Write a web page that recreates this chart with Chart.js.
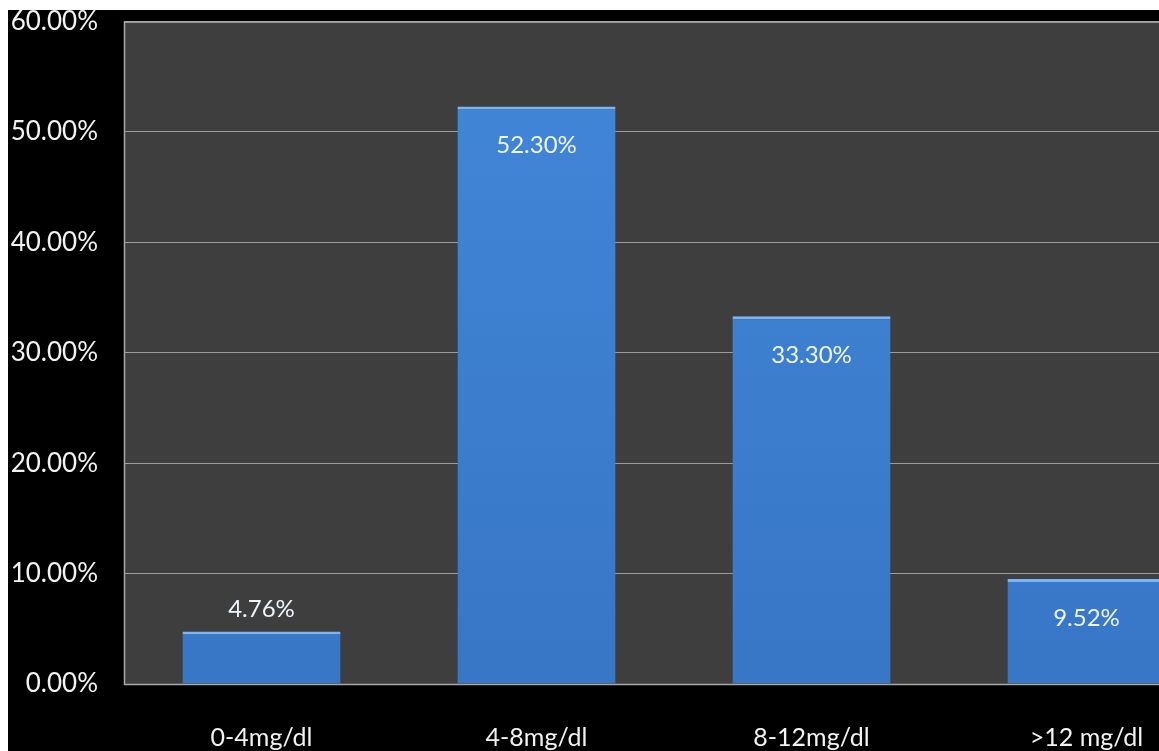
<!DOCTYPE html>
<html>
<head>
<meta charset="utf-8">
<script src="https://cdn.jsdelivr.net/npm/chart.js@4.4.1/dist/chart.umd.min.js"></script>
<style>
  html, body { margin: 0; padding: 0; background: #ffffff; overflow: hidden; width: 1159px; height: 751px; }
  #frame { position: absolute; left: 8px; top: 10px; width: 1151px; height: 741px; background: #000000; overflow: hidden; }
  #wrap { position: absolute; left: 0; top: -30px; width: 1216px; height: 771px; }
</style>
</head>
<body>
<div id="frame"><div id="wrap"><canvas id="c"></canvas></div></div>
<script>
const categories = ['0-4mg/dl', '4-8mg/dl', '8-12mg/dl', '>12 mg/dl'];
const values = [4.76, 52.30, 33.30, 9.52];
const yTicks = [0, 10, 20, 30, 40, 50, 60];

const plotBg = {
  id: 'plotBg',
  beforeDraw(chart) {
    const { ctx, chartArea: a } = chart;
    ctx.save();
    ctx.fillStyle = '#3e3e3e';
    ctx.fillRect(a.left, a.top, a.right - a.left, a.bottom - a.top);
    ctx.restore();
  },
  afterDraw(chart) {
    const { ctx, chartArea: a } = chart;
    ctx.save();
    ctx.strokeStyle = '#a8a8a8';
    ctx.lineWidth = 1.5;
    ctx.strokeRect(a.left + 0.5, a.top + 0.5, a.right - a.left, a.bottom - a.top);
    ctx.restore();
  }
};

const barLabels = {
  id: 'barLabels',
  afterDatasetsDraw(chart) {
    const { ctx } = chart;
    const meta = chart.getDatasetMeta(0);
    ctx.save();
    ctx.font = '24px Lato';
    ctx.fillStyle = '#eef4fb';
    ctx.textAlign = 'center';
    ctx.textBaseline = 'middle';
    meta.data.forEach((bar, i) => {
      const v = chart.data.datasets[0].data[i];
      const h = bar.base - bar.y;
      const txt = v.toFixed(2) + '%';
      const y = h < 70 ? bar.y - 22 : bar.y + 39;
      ctx.fillText(txt, bar.x, y);
    });
    ctx.restore();
  }
};

new Chart(document.getElementById('c'), {
  type: 'bar',
  data: {
    labels: categories,
    datasets: [{
      data: values,
      backgroundColor: (c) => {
        const ch = c.chart;
        const a = ch.chartArea;
        if (!a) return '#3c7fd0';
        const g = ch.ctx.createLinearGradient(0, a.top, 0, a.bottom);
        g.addColorStop(0, '#4287d8');
        g.addColorStop(1, '#3876c6');
        return g;
      },
      borderColor: '#79b6f4',
      borderWidth: { top: 3, left: 0, right: 0, bottom: 0 },
      borderSkipped: false,
      categoryPercentage: 1,
      barPercentage: 0.575
    }]
  },
  options: {
    responsive: true,
    maintainAspectRatio: false,
    animation: false,
    layout: { padding: { top: 12, left: 0, right: 0, bottom: 0 } },
    plugins: { legend: { display: false }, tooltip: { enabled: false } },
    scales: {
      x: {
        afterFit: (s) => { s.height = 67; },
        grid: { display: false, drawTicks: false },
        border: { display: false },
        ticks: { color: '#f2f2f2', font: { family: 'Lato', size: 25 }, padding: 39 }
      },
      y: {
        min: 0, max: 60,
        afterFit: (s) => { s.width = 116; },
        afterBuildTicks: (s) => { s.ticks = yTicks.map(v => ({ value: v })); },
        grid: { color: '#9c9c9c', lineWidth: 1, drawTicks: false },
        border: { display: false },
        ticks: {
          color: '#f2f2f2',
          font: { family: 'Lato', size: 26 },
          padding: 26,
          callback: (v) => v.toFixed(2) + '%'
        }
      }
    }
  },
  plugins: [plotBg, barLabels]
});
</script>
</body>
</html>
